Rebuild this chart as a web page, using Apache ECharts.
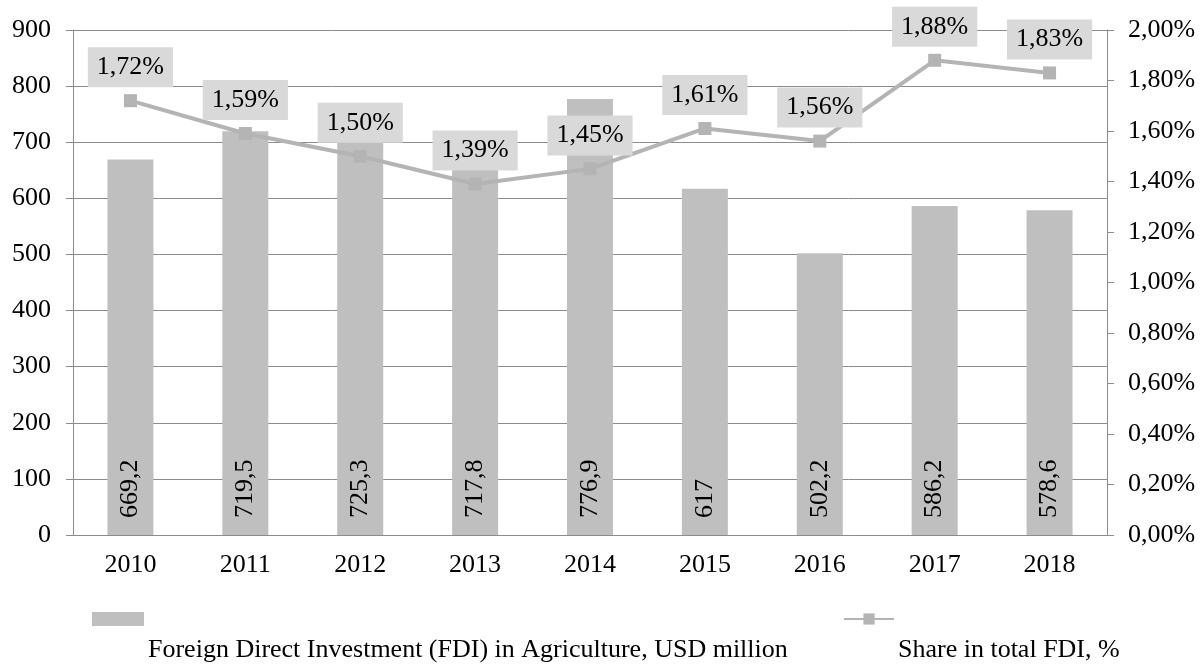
<!DOCTYPE html>
<html>
<head>
<meta charset="utf-8">
<script src="https://cdn.jsdelivr.net/npm/echarts@6/dist/echarts.min.js"></script>
<style>
  html, body { margin: 0; padding: 0; background: #fff; }
  #chart { width: 1200px; height: 664px; }
</style>
</head>
<body>
<div id="chart"></div>
<script>
var years = ['2010', '2011', '2012', '2013', '2014', '2015', '2016', '2017', '2018'];
var fdiValues = [669.2, 719.5, 725.3, 717.8, 776.9, 617, 502.2, 586.2, 578.6];
var shareValues = [1.72, 1.59, 1.50, 1.39, 1.45, 1.61, 1.56, 1.88, 1.83];
var barName = 'Foreign Direct Investment (FDI) in Agriculture, USD million';
var lineName = 'Share in total FDI, %';

var font = "'Liberation Serif', 'Times New Roman', serif";
var gridColor = '#8c8c8c';

var myChart = echarts.init(document.getElementById('chart'));

function comma(v) {
    return String(v).replace('.', ',');
}

var option = {
    animation: false,
    textStyle: { fontFamily: font, color: '#000' },
    grid: { left: 73, right: 93, top: 30, bottom: 129 },
    legend: [{
        left: 92,
        top: 612,
        padding: 0,
        itemWidth: 52,
        itemHeight: 14,
        selectedMode: false,
        data: [{ name: barName, icon: 'rect' }],
        formatter: function() { return ''; }
    }, {
        left: 843,
        top: 612,
        padding: 0,
        itemWidth: 50,
        itemHeight: 14,
        selectedMode: false,
        data: [lineName],
        formatter: function() { return ''; }
    }],
    graphic: [{
        type: 'text',
        left: 148,
        top: 637,
        style: { text: barName, font: '26px ' + font, fill: '#000' }
    }, {
        type: 'text',
        left: 898,
        top: 637,
        style: { text: lineName, font: '26px ' + font, fill: '#000' }
    }],
    xAxis: {
        type: 'category',
        data: years,
        boundaryGap: true,
        axisLine: { lineStyle: { color: gridColor } },
        axisTick: { length: 7, lineStyle: { color: gridColor } },
        axisLabel: { color: '#000', fontSize: 26, fontFamily: font, margin: 17 }
    },
    yAxis: [{
        type: 'value',
        min: 0,
        max: 900,
        interval: 100,
        axisLine: { show: true, lineStyle: { color: gridColor } },
        axisTick: { show: true, length: 7, lineStyle: { color: gridColor } },
        splitLine: { lineStyle: { color: gridColor } },
        axisLabel: { color: '#000', fontSize: 26, fontFamily: font, margin: 22 }
    }, {
        type: 'value',
        min: 0,
        max: 2,
        interval: 0.2,
        position: 'right',
        axisLine: { show: true, lineStyle: { color: gridColor } },
        axisTick: { show: true, length: 7, lineStyle: { color: gridColor } },
        splitLine: { show: false },
        axisLabel: {
            color: '#000', fontSize: 26, fontFamily: font, margin: 21,
            formatter: function(v) { return v.toFixed(2).replace('.', ',') + '%'; }
        }
    }],
    series: [{
        name: barName,
        type: 'bar',
        data: fdiValues,
        barWidth: 46,
        itemStyle: { color: '#bfbfbf' },
        label: {
            show: true,
            position: 'insideBottom',
            rotate: 90,
            align: 'left',
            verticalAlign: 'middle',
            distance: 17,
            color: '#000',
            fontSize: 26,
            fontFamily: font,
            formatter: function(p) { return comma(p.value); }
        }
    }, {
        name: lineName,
        type: 'line',
        yAxisIndex: 1,
        data: shareValues,
        symbol: 'rect',
        symbolSize: 13,
        color: '#b4b4b4',
        lineStyle: { width: 4, color: '#b4b4b4' },
        itemStyle: { color: '#b4b4b4' },
        label: {
            show: true,
            position: 'top',
            distance: 7,
            color: '#000',
            fontSize: 26,
            fontFamily: font,
            backgroundColor: '#d9d9d9',
            padding: [7, 9, 7, 9],
            formatter: function(p) { return p.value.toFixed(2).replace('.', ',') + '%'; }
        }
    }]
};

myChart.setOption(option);
window.addEventListener('resize', function() {
    myChart.resize();
});
</script>
</body>
</html>
